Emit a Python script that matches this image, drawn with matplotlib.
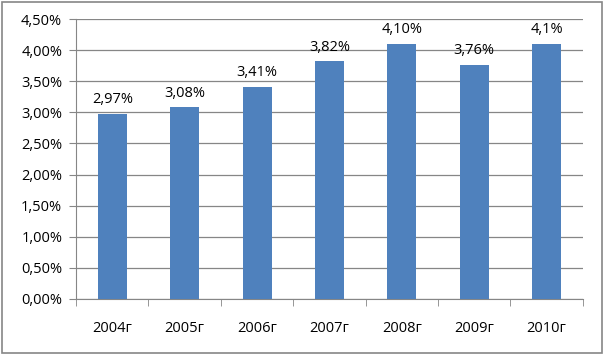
import matplotlib.pyplot as plt
from matplotlib.patches import Rectangle
from matplotlib.ticker import FuncFormatter, FixedLocator
import numpy as np

YEARS = ["2004г", "2005г", "2006г", "2007г", "2008г", "2009г", "2010г"]
VALUES = [2.97, 3.08, 3.41, 3.82, 4.10, 3.76, 4.10]
LABELS = ["2,97%", "3,08%", "3,41%", "3,82%", "4,10%", "3,76%", "4,1%"]

BLUE, GRID, AXC = "#4f81bd", "#868686", "#868686"
plt.rcParams["font.family"] = ["Open Sans", "DejaVu Sans"]

fig = plt.figure(figsize=(6.04, 3.55), dpi=100)
fig.patches.append(Rectangle((0.004, 0.006), 0.992, 0.988, transform=fig.transFigure,
                             fill=False, edgecolor="#868686", lw=1.2))
ax = fig.add_axes([0.126, 0.158, 0.839, 0.788])

x = np.arange(len(YEARS))
ax.bar(x, VALUES, 0.4, color=BLUE, zorder=3)
for xi, v, lab in zip(x, VALUES, LABELS):
    ax.text(xi, v + 0.11, lab, ha="center", va="bottom", fontsize=10.5, color="#000000", zorder=4)

ax.set_xlim(-0.5, len(YEARS) - 0.5)
ax.set_ylim(0, 4.5)
ax.set_yticks(np.arange(0, 4.51, 0.5))
ax.yaxis.set_major_formatter(FuncFormatter(lambda v, p: f"{v:.2f}%".replace(".", ",")))
ax.yaxis.grid(True, color=GRID, lw=0.9, zorder=0)
ax.set_xticks(x)
ax.set_xticklabels(YEARS)
ax.xaxis.set_minor_locator(FixedLocator(np.arange(-0.5, len(YEARS), 1)))
ax.tick_params(axis="x", which="major", length=0, pad=16, labelsize=10.5, labelcolor="#000000")
ax.tick_params(axis="x", which="minor", length=5, color=AXC, direction="out")
ax.tick_params(axis="y", length=5, color=AXC, labelsize=10.5, pad=5, labelcolor="#000000")
for s in ["top", "right"]:
    ax.spines[s].set_visible(False)
ax.spines["left"].set_color(AXC)
ax.spines["bottom"].set_color(AXC)

fig.savefig("out.png", dpi=100)
